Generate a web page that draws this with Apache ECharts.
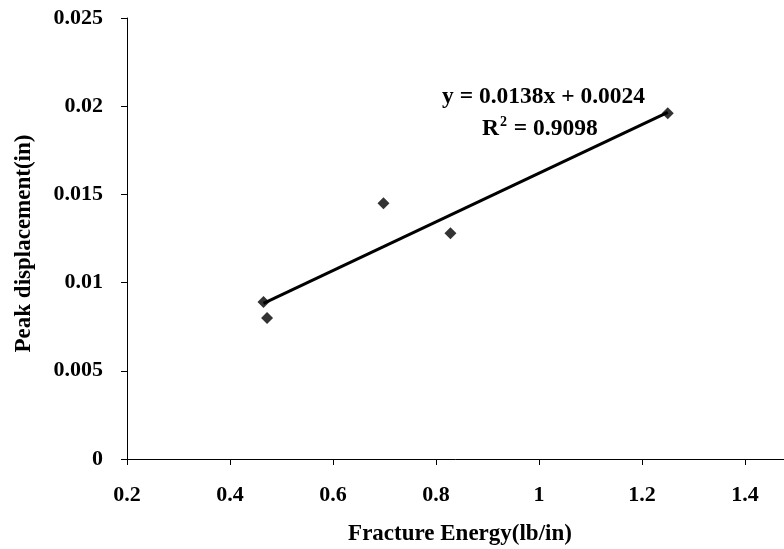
<!DOCTYPE html>
<html>
<head>
<meta charset="utf-8">
<script src="https://cdn.jsdelivr.net/npm/echarts@6/dist/echarts.min.js"></script>
<style>
  html, body { margin: 0; padding: 0; background: #fff; }
  #chart { width: 784px; height: 549px; }
</style>
</head>
<body>
<div id="chart"></div>
<script>
  // measured points (fracture energy, peak displacement)
  var energy = [0.465, 0.472, 0.698, 0.828, 1.250];
  var displacement = [0.0089, 0.0080, 0.0145, 0.0128, 0.0196];
  // linear trend from the printed equation
  var slope = 0.0138;
  var intercept = 0.0024;
  var eqText = 'y = 0.0138x + 0.0024';
  var r2Text = '0.9098';

  var points = energy.map(function (x, i) { return [x, displacement[i]]; });
  var xMin = Math.min.apply(null, energy);
  var xMax = Math.max.apply(null, energy);
  var trend = [[xMin, slope * xMin + intercept], [xMax, slope * xMax + intercept]];

  var font = 'Liberation Serif';
  var chart = echarts.init(document.getElementById('chart'));
  chart.setOption({
    animation: false,
    // plot runs past the right edge, the 1.6 end is cut off like the original
    grid: { left: 127, top: 18, width: 721, height: 441, outerBoundsMode: 'none', containLabel: false },
    xAxis: {
      type: 'value',
      min: 0.2,
      max: 1.6,
      interval: 0.2,
      name: 'Fracture Energy(lb/in)',
      nameLocation: 'middle',
      nameGap: 64,
      nameTextStyle: { color: '#000', fontFamily: font, fontWeight: 'bold', fontSize: 23, padding: [0, 55, 0, 0] },
      axisLine: { lineStyle: { color: '#000', width: 1 } },
      axisTick: { length: 6, lineStyle: { color: '#000' } },
      axisLabel: { color: '#000', fontFamily: font, fontWeight: 'bold', fontSize: 22, margin: 25 },
      splitLine: { show: false }
    },
    yAxis: {
      type: 'value',
      min: 0,
      max: 0.025,
      interval: 0.005,
      name: 'Peak displacement(in)',
      nameLocation: 'middle',
      nameGap: 91,
      nameRotate: 90,
      nameTextStyle: { color: '#000', fontFamily: font, fontWeight: 'bold', fontSize: 23, padding: [0, 10, 0, 0] },
      axisLine: { show: true, lineStyle: { color: '#000', width: 1 } },
      axisTick: { show: true, length: 6, lineStyle: { color: '#000' } },
      axisLabel: { color: '#000', fontFamily: font, fontWeight: 'bold', fontSize: 22, margin: 24 },
      splitLine: { show: false }
    },
    series: [
      {
        type: 'line',
        data: trend,
        symbol: 'none',
        lineStyle: { color: '#000', width: 3 },
        z: 2
      },
      {
        type: 'scatter',
        data: points,
        symbol: 'diamond',
        symbolSize: 12,
        itemStyle: { color: '#000' },
        z: 3
      }
    ],
    graphic: [
      {
        type: 'text',
        x: 442,
        y: 97,
        style: { text: eqText, fill: '#000', font: 'bold 23.5px "Liberation Serif"', verticalAlign: 'middle' }
      },
      {
        type: 'text',
        x: 482,
        y: 129,
        style: {
          text: '{b|R}{s|2}{b| = ' + r2Text + '}',
          verticalAlign: 'middle',
          rich: {
            b: { fill: '#000', font: 'bold 23.5px "Liberation Serif"' },
            s: { fill: '#000', font: 'bold 14px "Liberation Serif"', padding: [0, 1, 13, 1] }
          }
        }
      }
    ]
  });
</script>
</body>
</html>
